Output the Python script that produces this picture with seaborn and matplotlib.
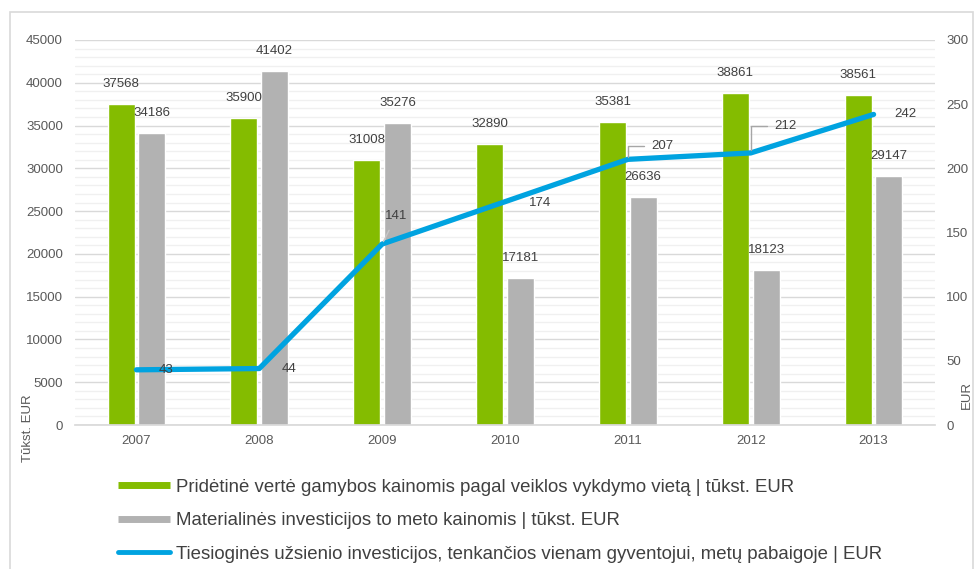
import numpy as np
import pandas as pd
import seaborn as sns
import matplotlib.pyplot as plt
from matplotlib.lines import Line2D
from matplotlib.patches import Rectangle
from matplotlib.ticker import MultipleLocator

# --- Data ---
years = ['2007', '2008', '2009', '2010', '2011', '2012', '2013']
added_value = [37568, 35900, 31008, 32890, 35381, 38861, 38561]
investments = [34186, 41402, 35276, 17181, 26636, 18123, 29147]
fdi_per_capita = [43, 44, 141, 174, 207, 212, 242]

name_added = 'Pridėtinė vertė gamybos kainomis pagal veiklos vykdymo vietą | tūkst. EUR'
name_invest = 'Materialinės investicijos to meto kainomis | tūkst. EUR'
name_fdi = 'Tiesioginės užsienio investicijos, tenkančios vienam gyventojui, metų pabaigoje | EUR'

GREEN = '#84bc00'
GRAY = '#b2b2b2'
BLUE = '#00a3e0'
TXT = '#595959'

sns.set_theme(style='white')
plt.rcParams['font.family'] = ['Liberation Sans', 'DejaVu Sans']

bars = pd.DataFrame({
    'year': years * 2,
    'value': added_value + investments,
    'series': [name_added] * len(years) + [name_invest] * len(years),
})

fig = plt.figure(figsize=(9.76, 5.69), dpi=100)
ax = fig.add_axes([75 / 976, 1 - 425 / 569, 860 / 976, 385 / 569])

sns.barplot(data=bars, x='year', y='value', hue='series', palette=[GREEN, GRAY],
            width=0.5, gap=0.12, legend=False, ax=ax, saturation=1)

for cont in ax.containers:
    ax.bar_label(cont, padding=10, fontsize=9.5, color='#404040')

ax.set_ylim(0, 45000)
ax.yaxis.set_major_locator(MultipleLocator(5000))
ax.yaxis.set_minor_locator(MultipleLocator(1000))
ax.grid(axis='y', which='major', color='#d9d9d9', lw=1)
ax.grid(axis='y', which='minor', color='#f0f0f0', lw=1)
ax.set_axisbelow(True)
ax.set_xlabel('')
ax.set_ylabel('')
for s in ['top', 'right', 'left']:
    ax.spines[s].set_visible(False)
ax.spines['bottom'].set_color('#d9d9d9')
ax.tick_params(axis='both', which='both', length=0, labelsize=9.5, labelcolor=TXT)
ax.tick_params(axis='y', pad=8.6)
ax.tick_params(axis='x', pad=7)

# --- Line on secondary axis ---
ax2 = ax.twinx()
xs = np.arange(len(years))
sns.lineplot(x=xs, y=fdi_per_capita, ax=ax2, color=BLUE, linewidth=3.8,
             solid_capstyle='round')
ax2.set_ylim(0, 300)
ax2.yaxis.set_major_locator(MultipleLocator(50))
for s in ['top', 'right', 'left', 'bottom']:
    ax2.spines[s].set_visible(False)
ax2.tick_params(axis='y', length=0, labelsize=9.5, labelcolor=TXT, pad=8)
ax2.set_ylabel('')
ax.set_xlim(-0.5, len(years) - 0.5)

# label offsets in pixels (dx, dy), leader style
offsets = [(30, 0, None), (30, 0, None), (14, 28, 'diag'), (35, -1, None),
           (35, 13, 'angle'), (35, 27, 'angle'), (32, 0, None)]
for x, v, (dx, dy, lead) in zip(xs, fdi_per_capita, offsets):
    kw = {}
    if lead == 'angle':
        kw['arrowprops'] = dict(arrowstyle='-', color='#a6a6a6', lw=1, shrinkA=3, shrinkB=2,
                                connectionstyle='angle,angleA=0,angleB=90,rad=0')
    elif lead == 'diag':
        kw['arrowprops'] = dict(arrowstyle='-', color='#c8c8c8', lw=1, shrinkA=4, shrinkB=2)
    ax2.annotate(str(v), (x, v), xytext=(dx, dy), textcoords='offset pixels',
                 ha='center', va='center', fontsize=9.5, color='#404040', **kw)

# axis titles
fig.text(28 / 976, 1 - 428 / 569, 'Tūkst. EUR', rotation=90, ha='center', va='center',
         fontsize=9.5, color=TXT)
fig.text(967 / 976, 1 - 395 / 569, 'EUR', rotation=90, ha='center', va='center',
         fontsize=9.5, color=TXT)

# legend
handles = [Line2D([], [], color=GREEN, lw=5, solid_capstyle='butt'),
           Line2D([], [], color=GRAY, lw=5, solid_capstyle='butt'),
           Line2D([], [], color=BLUE, lw=3.5, solid_capstyle='round')]
fig.legend(handles, [name_added, name_invest, name_fdi], loc='upper left',
           bbox_to_anchor=(101 / 976, 1 - 462 / 569), frameon=False, ncol=1,
           prop={'size': 13.4}, labelcolor='#404040',
           handlelength=2.8, handletextpad=0.32, labelspacing=0.89)

# outer frame
fig.patches.append(Rectangle((10 / 976, -0.01), 0.987, 1 - 12 / 569 + 0.01,
                             transform=fig.transFigure, fill=False,
                             edgecolor='#d9d9d9', lw=1.2))

fig.savefig('out.png', dpi=100)
